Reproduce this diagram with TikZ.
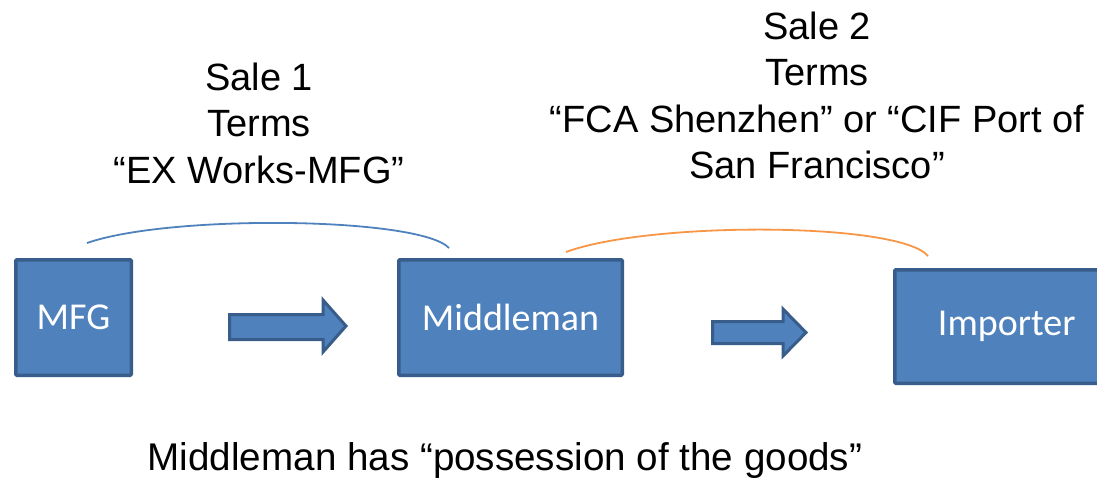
\documentclass[tikz,border=0pt]{standalone}
\usepackage{fontspec}
\setmainfont{Liberation Sans}
\newfontfamily\boxfont{Carlito}
\definecolor{boxfill}{HTML}{4F81BD}
\definecolor{boxline}{HTML}{385D8A}
\definecolor{salearc}{HTML}{4F81BD}
\definecolor{salearctwo}{HTML}{F79646}
\tikzset{
  party/.style={draw=boxline, fill=boxfill, line width=3.5pt, rounded corners=1pt,
    inner sep=0pt, text=white, font=\boxfont\fontsize{38}{44}\selectfont},
  flowarrow/.style={draw=boxline, fill=boxfill, line width=3pt, line join=miter},
  term/.style={inner sep=0pt, anchor=base, font=\fontsize{38}{46.5}\selectfont},
  salelink/.style={line width=1.8pt},
}
\begin{document}
\begin{tikzpicture}[x=1pt, y=-1pt]
  \clip (0,0) rectangle (1097,477);
  \useasboundingbox (0,0) rectangle (1097,477);

  % parties
  \node[party, minimum width=115.5pt, minimum height=115.5pt] (mfg) at (73.5,317.5) {MFG};
  \node[party, minimum width=223.5pt, minimum height=115.5pt] (mid) at (510.5,317.5) {Middleman};
  \node[party, minimum width=224pt, minimum height=113.5pt] (imp) at (1006.75,326.5) {Importer};

  % block arrows for the flow of goods
  \draw[flowarrow] (229.5,314.5) -- (323,314.5) -- (323,300) -- (346,326) -- (323,352)
    -- (323,339.5) -- (229.5,339.5) -- cycle;
  \draw[flowarrow] (712.5,321.5) -- (783,321.5) -- (783,309) -- (806,332.5) -- (783,356)
    -- (783,343.5) -- (712.5,343.5) -- cycle;

  % arcs spanning each sale
  \coordinate (s1a) at (87,243);
  \coordinate (s1b) at (449,248);
  \coordinate (s2a) at (566,252);
  \coordinate (s2b) at (928,256);
  \draw[salelink, salearc] (s1a) .. controls (170,214) and (420,217) .. (s1b);
  \draw[salelink, salearctwo] (s2a) .. controls (650,221) and (900,222) .. (s2b);

  % sale terms
  \node[term] (t1a) at (259,90) {Sale 1};
  \node[term] (t1b) at (259,136.5) {Terms};
  \node[term] (t1c) at (259,183) {“EX Works-MFG”};

  \node[term] (t2a) at (817,39) {Sale 2};
  \node[term] (t2b) at (817,85.5) {Terms};
  \node[term] (t2c) at (817,132) {“FCA Shenzhen” or “CIF Port of};
  \node[term] (t2d) at (817,178.5) {San Francisco”};

  \node[term, font=\fontsize{38.6}{46.5}\selectfont] (note) at (505,470) {Middleman has “possession of the goods”};
\end{tikzpicture}
\end{document}
